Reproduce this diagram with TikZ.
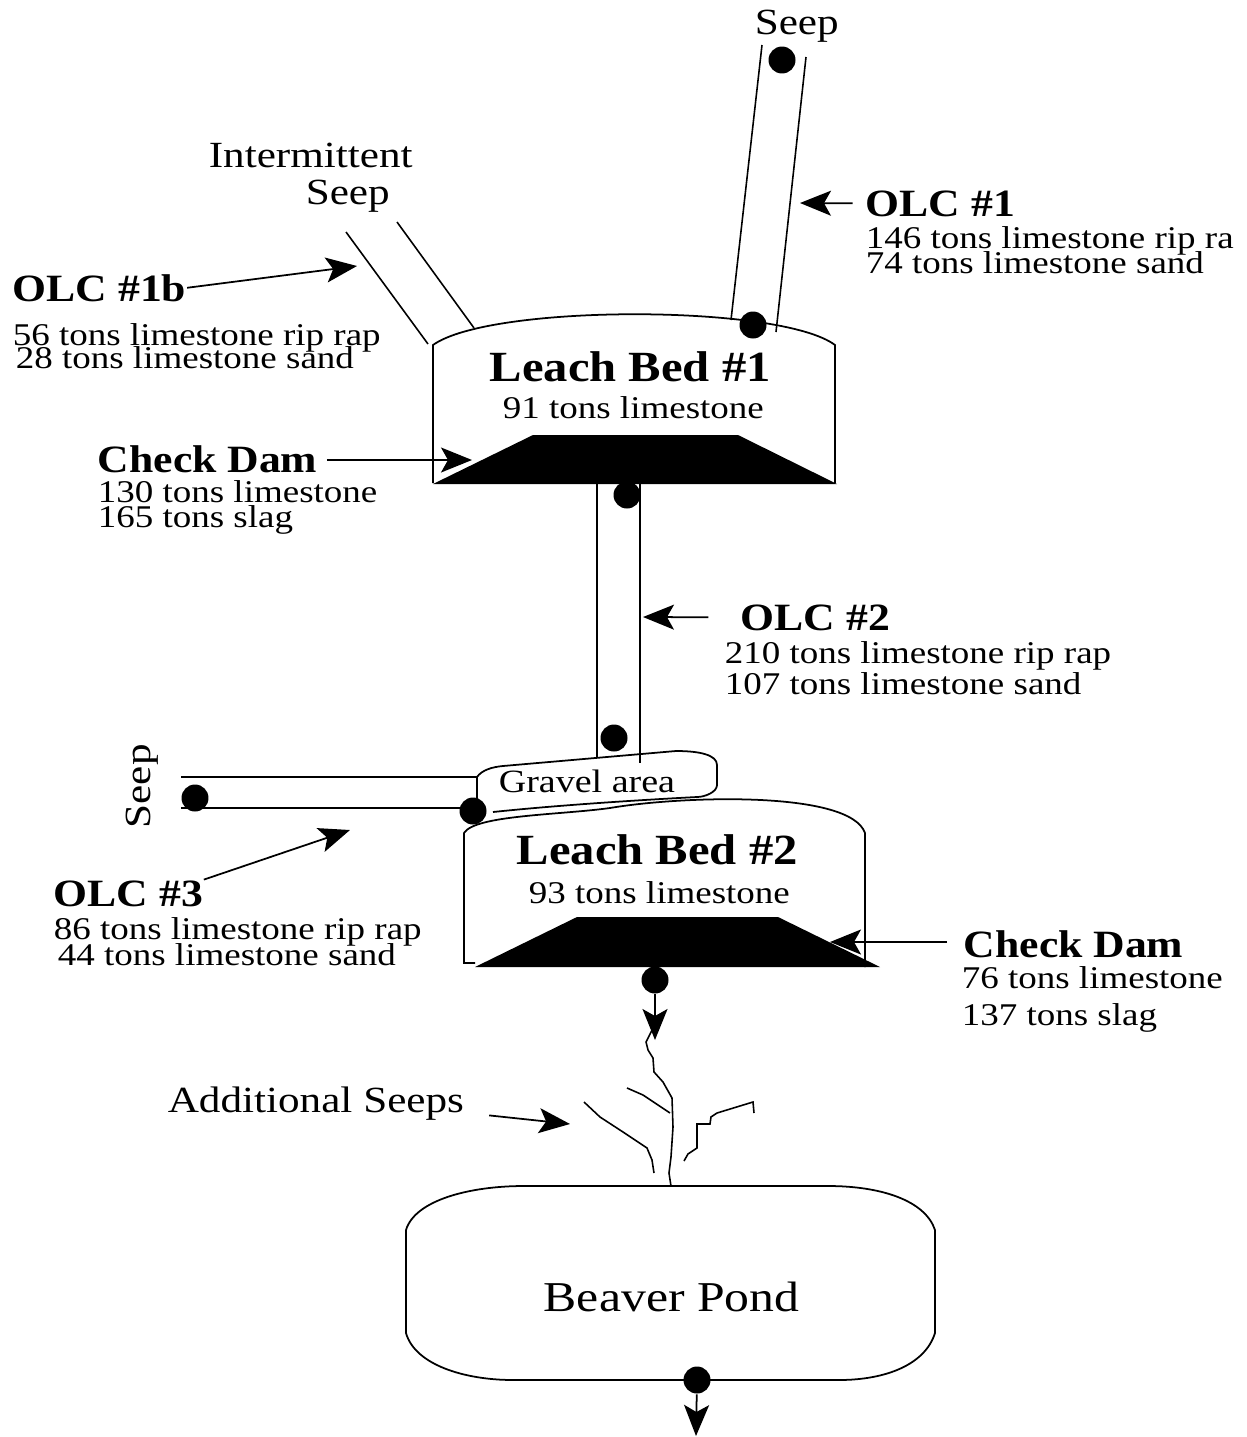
\documentclass[tikz,border=0pt]{standalone}
\usepackage{fontspec}
\setmainfont{Liberation Serif}
\newfontfamily\widefont{Liberation Serif}[FakeStretch=1.17]
\newfontfamily\headfont{Liberation Serif}[FakeStretch=1.13]
\usetikzlibrary{arrows.meta}

\begin{document}
\begin{tikzpicture}[
    x=0.02cm, y=-0.02cm,
    line width=0.9pt,
    dot/.style={circle, fill=black, inner sep=0pt, minimum size=0.54cm},
    txt/.style={anchor=base west, inner sep=0pt, font=\widefont\fontsize{18}{20}\selectfont},
    biglabel/.style={anchor=base west, inner sep=0pt, font=\widefont\fontsize{21}{24}\selectfont},
    head/.style={anchor=base west, inner sep=0pt, font=\headfont\bfseries\fontsize{22}{26}\selectfont},
    bedname/.style={anchor=base west, inner sep=0pt, font=\headfont\bfseries\fontsize{24.5}{28}\selectfont},
    arrow/.style={-{Stealth[length=0.62cm, width=0.5cm, inset=0.14cm]}, line width=1pt},
    bank/.style={line width=1pt}
]
\useasboundingbox (0,0) rectangle (1247,1437);

\coordinate (bedAul) at (433,345);
\coordinate (bedAur) at (835,345);
\coordinate (bedBul) at (464,833);
\coordinate (bedBur) at (865,833);

\draw[bank] (433,483) -- (bedAul) .. controls (490,304) and (780,304) .. (bedAur) -- (835,483);
\draw[bank] (475,963) -- (464,963) -- (bedBul) .. controls (475,815) and (560,815) .. (610,808)
    .. controls (680,796) and (850,790) .. (bedBur) -- (865,967);
\fill (433,484) -- (533,435) -- (738,435) -- (837,484) -- cycle;
\fill (475,967) -- (577,917) -- (778,917) -- (880,967) -- cycle;

\draw[bank] (477,808) -- (477,777) .. controls (482,770) and (492,767) .. (503,766)
    -- (676,751) .. controls (700,751) and (717,755) .. (717,765) -- (717,785)
    .. controls (717,792) and (705,797) .. (697,797) .. controls (640,800) and (560,805) .. (493,812);

\draw[bank] (524,1186) -- (828,1186) .. controls (880,1186) and (925,1200) .. (935,1230)
    -- (935,1333) .. controls (925,1365) and (885,1380) .. (839,1380)
    -- (513,1380) .. controls (465,1380) and (415,1365) .. (406,1333)
    -- (406,1230) .. controls (415,1200) and (470,1186) .. (524,1186);

\node[dot] (seepA) at (782,60) {};
\node[dot] (inA) at (753,325) {};
\node[dot] (outA) at (627,495) {};
\node[dot] (inB) at (614,738) {};
\node[dot] (seepC) at (195,798) {};
\node[dot] (inC) at (473,811) {};
\node[dot] (outB) at (655,980) {};
\node[dot] (outP) at (697,1380) {};

\coordinate (seepCb) at (181,808);

\draw (762,45) -- (731,320);
\draw (806,57) -- (776,332);
\draw (346,232) -- (428,344);
\draw (397,222) -- (474,328);
\draw (597,483) -- (597,757);
\draw (640,483) -- (640,763);
\draw (181,777) -- (477,777);
\draw (seepCb) -- (seepCb -| inC);

\node[biglabel] (seeptop) at (754,34) {Seep};
\node[biglabel] (interm) at (208,167) {Intermittent};
\node[biglabel] (seepint) at (305,204) {Seep};
\node[head] (olcA) at (865,216) {OLC \#1};
\node[txt] at (865,248) {146 tons limestone rip ra};
\node[txt] at (865,273) {74 tons limestone sand};
\node[head] (olcAb) at (12,301) {OLC \#1b};
\node[txt] at (12,345) {56 tons limestone rip rap};
\node[txt] at (15,368) {28 tons limestone sand};
\node[bedname] (bedA) at (489,381) {Leach Bed \#1};
\node[txt] at (502,418) {91 tons limestone};
\node[head] (damA) at (97,472) {Check Dam};
\node[txt] at (97,502) {130 tons limestone};
\node[txt] at (97,527) {165 tons slag};
\node[head] (olcB) at (740,630) {OLC \#2};
\node[txt] at (724,663) {210 tons limestone rip rap};
\node[txt] at (724,694) {107 tons limestone sand};
\node[anchor=base west, inner sep=0pt, font=\widefont\fontsize{18.5}{20}\selectfont] (gravel) at (498,792) {Gravel area};
\node[biglabel, rotate=90] (seepside) at (150,829) {Seep};
\node[bedname] (bedB) at (516,864) {Leach Bed \#2};
\node[txt] at (528,903) {93 tons limestone};
\node[head] (olcC) at (53,906) {OLC \#3};
\node[txt] at (53,939) {86 tons limestone rip rap};
\node[txt] at (57,965) {44 tons limestone sand};
\node[head] (damB) at (963,957) {Check Dam};
\node[txt] at (961,988) {76 tons limestone};
\node[txt] at (961,1025) {137 tons slag};
\node[biglabel] (addseeps) at (167,1112) {Additional Seeps};
\node[anchor=base west, inner sep=0pt, font=\widefont\fontsize{24.2}{28}\selectfont] (pond) at (543,1311) {Beaver Pond};

\coordinate (tipOlcA) at (800,203);
\coordinate (tipOlcAb) at (357,266);
\coordinate (tipDamA) at (472,460);
\coordinate (tipOlcB) at (643,617);
\coordinate (tipOlcC) at (350,830);
\coordinate (tipDamB) at (830,942);
\coordinate (tipSeeps) at (570,1124);
\coordinate (tipOutB) at (655,1040);
\coordinate (tipOutP) at (696,1436);

\draw[arrow, shorten <=7pt] (olcA.west) -- (tipOlcA);
\draw[arrow] (olcAb.east) -- (tipOlcAb);
\draw[arrow, shorten <=5pt] (damA.east |- tipDamA) -- (tipDamA);
\draw[arrow, shorten <=18pt] (olcB.west) -- (tipOlcB);
\draw[arrow] (olcC.north east) -- (tipOlcC);
\draw[arrow, shorten <=9pt] (damB.west |- tipDamB) -- (tipDamB);
\draw[arrow, shorten <=14pt] ([yshift=-5.5pt]addseeps.east) -- (tipSeeps);
\draw[arrow] (outB) -- (tipOutB);
\draw[arrow] (outP) -- (tipOutP);

\draw (652,1030) -- (646,1042) -- (648,1050) -- (653,1058) -- (654,1072) -- (663,1082) -- (672,1098)
    -- (673,1127) -- (671,1157) -- (669,1173) -- (671,1186);
\draw (627,1088) -- (643,1095) -- (670,1113);
\draw (584,1102) -- (600,1117) -- (623,1132) -- (647,1148) -- (652,1160) -- (654,1173);
\draw (684,1161) -- (688,1154) -- (697,1148) -- (697,1124) -- (710,1124) -- (711,1117)
    -- (717,1113) -- (753,1102) -- (754,1113);
\end{tikzpicture}
\end{document}
